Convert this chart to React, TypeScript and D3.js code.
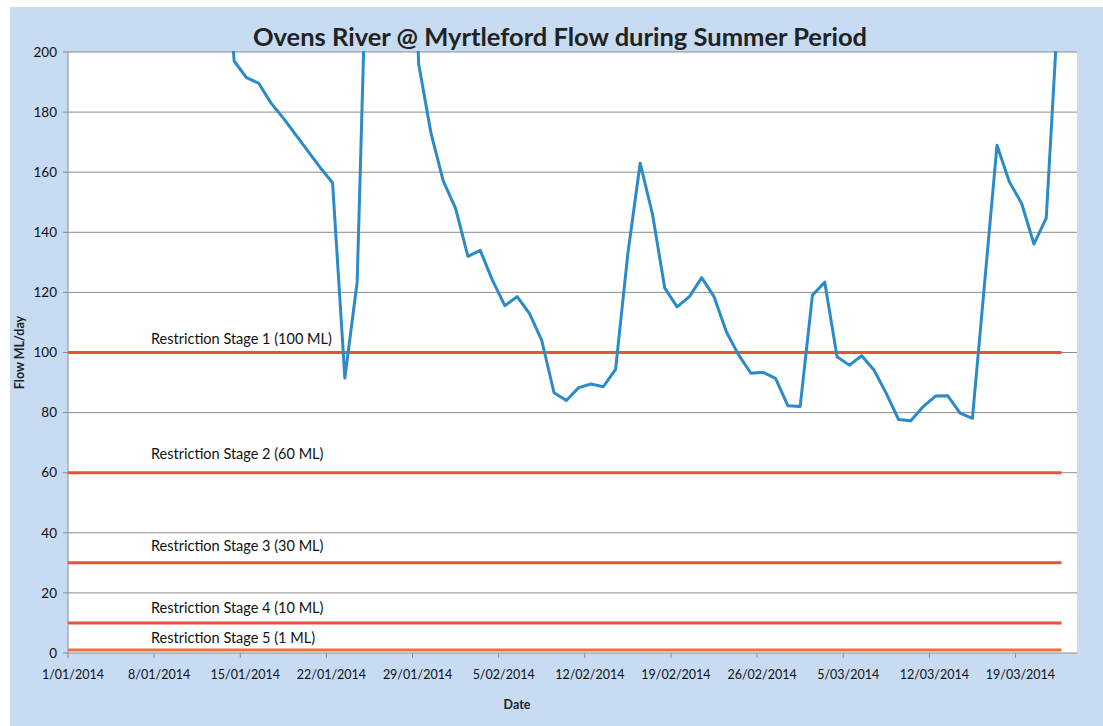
import React from 'react';
import * as d3 from 'd3';

// ---- data ----
const startDate = new Date(Date.UTC(2014, 0, 1));
const endDate = new Date(Date.UTC(2014, 2, 24));
const firstFlowDay = 12; // 13/01/2014
const flowValues = [
  262, 197, 191.5, 189.6, 183, 178, 172.5, 167, 161.5, 156.5,
  91.5, 123.5, 270, 290, 285, 300, 196, 173, 157, 148,
  132, 134, 124, 115.6, 118.6, 113, 104, 86.6, 84, 88.3,
  89.5, 88.6, 94.4, 133, 163, 146, 121.4, 115.2, 118.6, 124.9,
  118.6, 106.9, 99.2, 93.1, 93.4, 91.4, 82.3, 82, 119.1, 123.4,
  98.6, 95.8, 98.9, 94.2, 86.4, 77.7, 77.3, 82, 85.5, 85.6,
  79.8, 78.1, 123.5, 169, 156.8, 149.6, 136.1, 144.7, 217,
];
const restrictionLevels = [100, 60, 30, 10, 1];
const restrictionLabels = [
  'Restriction Stage 1 (100 ML)',
  'Restriction Stage 2 (60 ML)',
  'Restriction Stage 3 (30 ML)',
  'Restriction Stage 4 (10 ML)',
  'Restriction Stage 5 (1 ML)',
];
const restrictionLabelAt = [104.5, 66.2, 35.6, 15, 5];
const yTicks = [0, 20, 40, 60, 80, 100, 120, 140, 160, 180, 200];
const xTickStepDays = 7;

const W = 1103;
const H = 726;
const plot = { left: 68, right: 1077, top: 52, bottom: 653 };

export default function App() {
  const x = d3.scaleUtc().domain([startDate, endDate]).range([plot.left, plot.right]);
  const y = d3.scaleLinear().domain([0, 200]).range([plot.bottom, plot.top]);

  const pts = flowValues.map((v, i) => ({
    date: d3.utcHour.offset(d3.utcDay.offset(startDate, firstFlowDay + i), 12),
    v,
  }));
  const lastDate = pts[pts.length - 1].date;

  const line = d3
    .line<{ date: Date; v: number }>()
    .x((d) => x(d.date))
    .y((d) => y(d.v));

  const xTickDates = d3.utcDays(startDate, endDate, xTickStepDays);
  const fmt = d3.utcFormat('%-d/%m/%Y');

  const font = 'Lato, "Open Sans", sans-serif';
  const gridColor = '#8d8d8d';

  return (
    <svg
      width={W}
      height={H}
      style={{ position: 'absolute', left: 0, top: 0, display: 'block' }}
      fontFamily={font}
    >
      <defs>
        <clipPath id="plotClip">
          <rect x={plot.left} y={plot.top - 1} width={plot.right - plot.left} height={plot.bottom - plot.top + 2} />
        </clipPath>
      </defs>
      <rect x={0} y={0} width={W} height={H} fill="#ffffff" />
      <rect x={10} y={7} width={W - 10} height={H - 7} fill="#c7dbf3" />
      <rect
        x={plot.left}
        y={plot.top}
        width={plot.right - plot.left}
        height={plot.bottom - plot.top}
        fill="#ffffff"
      />

      {/* gridlines */}
      {yTicks.map((t) => (
        <g key={'g' + t}>
          {t > 0 && (
            <line x1={plot.left} x2={plot.right} y1={y(t)} y2={y(t)} stroke={gridColor} strokeWidth={1} />
          )}
          <line x1={plot.left - 5} x2={plot.left} y1={y(t)} y2={y(t)} stroke={gridColor} strokeWidth={1} />
          <text x={57} y={y(t)} dy="0.35em" textAnchor="end" fontSize={13.5} fill="#111">
            {t}
          </text>
        </g>
      ))}

      {/* axes */}
      <line x1={plot.left} x2={plot.left} y1={plot.top} y2={plot.bottom} stroke={gridColor} strokeWidth={1} />
      <line x1={plot.left} x2={plot.right} y1={plot.bottom} y2={plot.bottom} stroke={gridColor} strokeWidth={1} />
      {xTickDates.map((d) => (
        <g key={'x' + d.getTime()}>
          <line x1={x(d)} x2={x(d)} y1={plot.bottom} y2={plot.bottom + 5} stroke={gridColor} strokeWidth={1} />
          <text x={x(d) + 5} y={679} textAnchor="middle" fontSize={12.5} fill="#111">
            {fmt(d)}
          </text>
        </g>
      ))}

      {/* restriction lines */}
      {restrictionLevels.map((lv, i) => (
        <g key={'r' + lv}>
          <line
            x1={x(startDate)}
            x2={x(lastDate) + 3}
            y1={y(lv)}
            y2={y(lv)}
            stroke={i === 4 ? '#e6723f' : '#e5533c'}
            strokeWidth={3}
          />
          <text x={151} y={y(restrictionLabelAt[i])} dy="0.35em" fontSize={14.5} fill="#111">
            {restrictionLabels[i]}
          </text>
        </g>
      ))}

      {/* flow line */}
      <path
        d={line(pts) || ''}
        fill="none"
        stroke="#2b8bc8"
        strokeWidth={3}
        strokeLinejoin="round"
        clipPath="url(#plotClip)"
      />

      {/* titles */}
      <text x={560} y={46} textAnchor="middle" fontSize={25.5} fontWeight="bold" fill="#222">
        Ovens River @ Myrtleford Flow during Summer Period
      </text>
      <text
        transform={`translate(24, ${(plot.top + plot.bottom) / 2}) rotate(-90)`}
        textAnchor="middle"
        fontSize={12.5}
        fontWeight="bold"
        fill="#222"
      >
        Flow ML/day
      </text>
      <text x={517} y={709} textAnchor="middle" fontSize={12.5} fontWeight="bold" fill="#222">
        Date
      </text>
    </svg>
  );
}
